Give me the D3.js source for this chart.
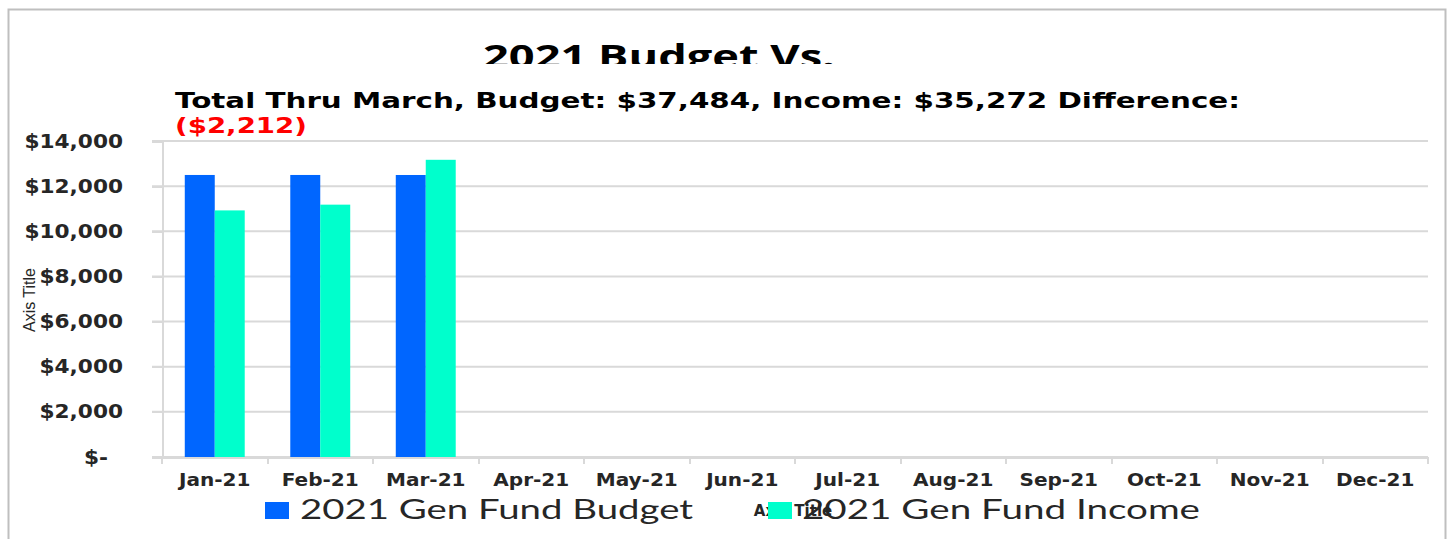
<!DOCTYPE html>
<meta charset="utf-8">
<style>
    body { margin: 0; background: #fff; }
    svg { display: block; }
    .tick text { font-family: "DejaVu Sans", Verdana, sans-serif; font-weight: bold; fill: #262626; }
    .axis path, .axis line { stroke: #d9d9d9; stroke-width: 2; shape-rendering: crispEdges; }
</style>
<body>
<script src="https://d3js.org/d3.v7.min.js"></script>
<script>
    // chart values
    const months = ["Jan-21", "Feb-21", "Mar-21", "Apr-21", "May-21", "Jun-21",
                    "Jul-21", "Aug-21", "Sep-21", "Oct-21", "Nov-21", "Dec-21"];
    const seriesNames = ["2021 Gen Fund Budget", "2021 Gen Fund Income"];
    const budget = [12495, 12495, 12494, null, null, null, null, null, null, null, null, null];
    const income = [10925, 11180, 13167, null, null, null, null, null, null, null, null, null];
    const yTicks = [0, 2000, 4000, 6000, 8000, 10000, 12000, 14000];
    const titleText = "2021 Budget Vs.";
    const subtitleText = "Total Thru March, Budget: $37,484, Income: $35,272 Difference:";
    const diffText = "($2,212)";

    const colors = ["#0066ff", "#00ffcc"];

    const W = 1450, H = 539;
    const margin = {top: 141, right: 22, bottom: 82, left: 162};
    const width = W - margin.left - margin.right;
    const height = H - margin.top - margin.bottom;

    const svg = d3.select("body").append("svg")
        .attr("width", W)
        .attr("height", H);

    // outer frame
    svg.append("rect")
        .attr("x", 8.5).attr("y", 9.5)
        .attr("width", 1437).attr("height", 560)
        .attr("fill", "#fff")
        .attr("stroke", "#bfbfbf")
        .attr("stroke-width", 2);

    // title, clipped like the original
    svg.append("clipPath").attr("id", "titleClip")
        .append("rect").attr("x", 0).attr("y", 0).attr("width", W).attr("height", 64);

    svg.append("text")
        .attr("clip-path", "url(#titleClip)")
        .attr("x", 483).attr("y", 68)
        .attr("textLength", 352).attr("lengthAdjust", "spacingAndGlyphs")
        .style("font-family", "'Open Sans', sans-serif")
        .style("font-weight", "bold")
        .style("font-size", "32px")
        .style("fill", "#000")
        .text(titleText);

    svg.append("text")
        .attr("x", 175).attr("y", 108)
        .attr("textLength", 1065).attr("lengthAdjust", "spacingAndGlyphs")
        .style("font-family", "'DejaVu Sans', sans-serif")
        .style("font-weight", "bold")
        .style("font-size", "22px")
        .style("fill", "#000")
        .text(subtitleText);

    svg.append("text")
        .attr("x", 175).attr("y", 133)
        .attr("textLength", 132).attr("lengthAdjust", "spacingAndGlyphs")
        .style("font-family", "'DejaVu Sans', sans-serif")
        .style("font-weight", "bold")
        .style("font-size", "22px")
        .style("fill", "#ff0000")
        .text(diffText);

    const g = svg.append("g")
        .attr("transform", "translate(" + margin.left + "," + margin.top + ")");

    const x0 = d3.scaleBand().domain(months).range([0, width]).padding(0);
    const x1 = d3.scaleBand().domain(seriesNames).range([0, x0.bandwidth()])
        .paddingInner(0).paddingOuter(0.76);
    const y = d3.scaleLinear().domain([0, 14000]).range([height, 0]);

    // gridlines
    g.append("g")
        .selectAll("line")
        .data(yTicks)
        .enter().append("line")
        .attr("x1", -10).attr("x2", width)
        .attr("y1", d => y(d)).attr("y2", d => y(d))
        .attr("stroke", "#d9d9d9")
        .attr("stroke-width", 2);

    // y axis
    const ySx = 1.14;
    const yAxis = g.append("g")
        .attr("class", "axis")
        .call(d3.axisLeft(y).tickValues(yTicks).tickSize(10).tickPadding(29)
            .tickFormat(d => d === 0 ? "$-" : d3.format("$,")(d)));
    yAxis.selectAll(".tick text")
        .style("font-size", "19px")
        .attr("x", d => (d === 0 ? -54 : -39) / ySx)
        .attr("transform", "scale(" + ySx + ",1)");

    // x axis with ticks at category boundaries
    const xAxis = g.append("g")
        .attr("class", "axis")
        .attr("transform", "translate(0," + height + ")")
        .call(d3.axisBottom(x0).tickSize(0).tickPadding(17));
    xAxis.selectAll(".tick text")
        .style("font-size", "17px")
        .attr("transform", "scale(1.18,1)");
    xAxis.selectAll(".bound")
        .data(d3.range(months.length + 1))
        .enter().append("line")
        .attr("class", "bound")
        .attr("x1", i => i * x0.step()).attr("x2", i => i * x0.step())
        .attr("y1", 0).attr("y2", 7);

    // bars
    const rows = months.map((m, i) => ({month: m, values: [budget[i], income[i]]}));
    g.append("g")
        .selectAll("g")
        .data(rows)
        .enter().append("g")
        .attr("transform", d => "translate(" + x0(d.month) + ",0)")
        .selectAll("rect")
        .data(d => d.values.map((v, j) => ({key: seriesNames[j], value: v, j: j})).filter(e => e.value != null))
        .enter().append("rect")
        .attr("x", d => x1(d.key))
        .attr("width", x1.bandwidth())
        .attr("y", d => y(d.value))
        .attr("height", d => height - y(d.value))
        .attr("fill", d => colors[d.j]);

    // axis titles
    svg.append("text")
        .attr("transform", "translate(35,300) rotate(-90)")
        .attr("text-anchor", "middle")
        .attr("textLength", 64).attr("lengthAdjust", "spacingAndGlyphs")
        .style("font-family", "'Liberation Sans', sans-serif")
        .style("font-size", "16px")
        .style("fill", "#262626")
        .text("Axis Title");

    svg.append("text")
        .attr("x", 793).attr("y", 516)
        .attr("text-anchor", "middle")
        .style("font-family", "'DejaVu Sans', sans-serif")
        .style("font-weight", "bold")
        .style("font-size", "15px")
        .style("fill", "#262626")
        .text("Axis Title");

    // legend
    const legendPos = [{sx: 265, tx: 300, tl: 393}, {sx: 768, tx: 802, tl: 398}];
    const legend = svg.append("g")
        .selectAll("g")
        .data(seriesNames)
        .enter().append("g");
    legend.append("rect")
        .attr("x", (d, i) => legendPos[i].sx)
        .attr("y", 502)
        .attr("width", 24).attr("height", 17)
        .attr("fill", (d, i) => colors[i]);
    legend.append("text")
        .attr("x", (d, i) => legendPos[i].tx)
        .attr("y", 519)
        .attr("textLength", (d, i) => legendPos[i].tl)
        .attr("lengthAdjust", "spacingAndGlyphs")
        .style("font-family", "Lato, sans-serif")
        .style("font-size", "27px")
        .style("fill", "#262626")
        .text(d => d);
</script>
</body>
</html>
